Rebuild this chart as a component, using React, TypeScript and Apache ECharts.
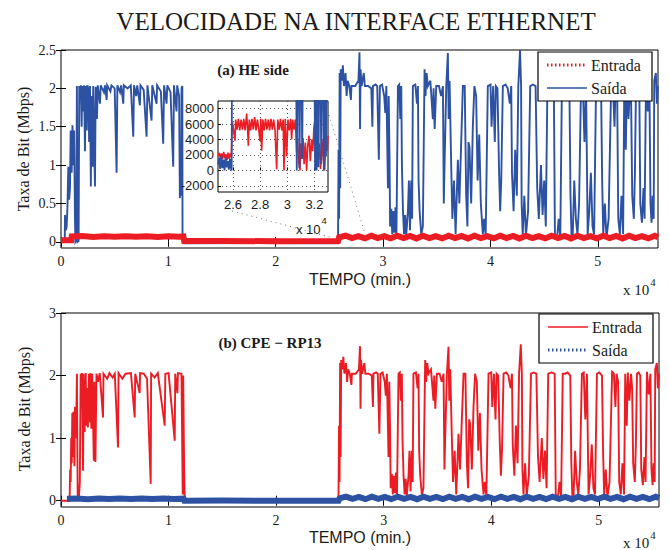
import React, { useEffect, useRef } from "react";
import * as echarts from "echarts";

// ---------- tick values ----------
const mainXTicks = [0, 10000, 20000, 30000, 40000, 50000];
const topYTicks = [0, 0.5, 1, 1.5, 2, 2.5];
const botYTicks = [0, 1, 2, 3];
const insetXTicks = [26000, 28000, 30000, 32000];
const insetYTicks = [-2000, 0, 2000, 4000, 6000, 8000];

// ---------- (a) HE side : Saída, first part (t in min, Mbps) ----------
const heSaidaInicio: number[][] = [
  [0, 0.02], [350, 0.03], [372, 0.35], [450, 0.15], [527, 0.2], [600, 0.45], [682, 0.98], [760, 0.55],
  [837, 0.7], [900, 1.45], [992, 0.9], [1070, 1.52], [1147, 1.0], [1220, 1.45], [1302, 0.3], [1340, 0.0],
  [1420, 0.02], [1480, 2.03], [1540, 0.0], [1640, 0.01], [1700, 2.03], [1767, 1.9], [1850, 2.04], [1922, 1.5],
  [1980, 2.03], [2080, 1.7], [2150, 2.04], [2233, 1.18], [2300, 2.03], [2400, 1.45], [2450, 2.04], [2543, 2.0],
  [2620, 1.3], [2700, 2.03], [2780, 0.72], [2853, 1.9], [2950, 0.98], [3000, 2.03], [3163, 0.72], [3230, 2.02],
  [3350, 1.6], [3420, 2.04], [3628, 1.8], [3700, 2.04], [4000, 1.95], [4100, 2.04], [4248, 1.85], [4300, 2.04],
  [4600, 1.96], [4700, 2.04], [5000, 2.0], [5178, 0.9], [5250, 2.04], [5500, 1.95], [5600, 2.04], [5798, 1.8],
  [5850, 2.04], [6200, 2.0], [6500, 2.04], [6729, 1.37], [6800, 2.04], [7000, 1.9], [7100, 2.04], [7349, 1.78],
  [7400, 2.04], [7700, 1.98], [7969, 1.37], [8050, 2.04], [8434, 1.58], [8500, 2.04], [8899, 1.8], [8950, 2.04],
  [9300, 1.96], [9519, 1.28], [9600, 2.04], [9829, 1.8], [9900, 2.04], [10200, 1.95], [10449, 0.98], [10520, 2.04],
  [10760, 1.7], [10820, 2.04], [11000, 1.9], [11070, 0.57], [11140, 1.2], [11200, 0.6], [11225, 2.0], [11300, 2.03],
  [11318, 0.0], [11442, -0.02], [18000, -0.015], [25800, -0.02],
];

// ---------- (b) CPE - RP13 : Entrada, first part ----------
const cpeEntradaInicio: number[][] = [
  [0, 0.0], [800, 0.0], [850, 0.5], [900, 0.3], [950, 1.0], [1000, 0.6], [1050, 1.4], [1100, 0.7],
  [1150, 1.42], [1250, 0.55], [1300, 1.5], [1400, 1.0], [1480, 2.03], [1550, 0.1], [1650, 0.0], [1750, 0.3],
  [1830, 2.03], [1900, 1.5], [1950, 2.04], [2050, 0.48], [2100, 2.03], [2200, 1.1], [2300, 2.04], [2350, 1.2],
  [2400, 1.8], [2500, 1.17], [2600, 2.03], [2700, 1.25], [2750, 2.04], [2822, 1.15], [2900, 2.03], [3050, 0.64],
  [3100, 1.9], [3200, 0.62], [3300, 2.03], [3442, 1.9], [3600, 2.04], [3907, 1.33], [3950, 2.03], [4300, 1.95],
  [4500, 2.04], [4800, 1.97], [5000, 2.03], [5302, 0.85], [5350, 2.04], [5700, 1.95], [6000, 2.03], [6500, 2.04],
  [6853, 1.33], [6900, 2.03], [7318, 1.72], [7350, 2.04], [7700, 2.03], [8000, 1.95], [8342, 0.27], [8380, 2.03],
  [8700, 1.97], [9000, 2.04], [9644, 1.2], [9700, 2.03], [10000, 2.04], [10574, 0.96], [10620, 2.03], [10822, 1.72],
  [10870, 2.04], [11200, 2.03], [11318, 0.1], [11360, 2.0], [11450, 0.5], [11504, 0.0], [18000, 0.0], [25800, 0.0],
];

// ---------- 2 Mbps traffic after 25800 min (same flow seen at both ends) ----------
const trafegoFinal: number[][] = [
  [25850, 1.2], [25900, 0.3], [25950, 2.2], [26000, 0.7], [26050, 2.25], [26150, 2.1], [26250, 2.3], [26350, 2.03],
  [26500, 2.2], [26600, 1.9], [26700, 2.1], [26850, 2.03], [27000, 1.85], [27050, 2.03], [27400, 2.03], [27700, 2.1],
  [27800, 2.47], [27850, 1.47], [27900, 2.25], [28000, 2.03], [28200, 2.2], [28300, 2.03], [28600, 2.03], [28900, 2.0],
  [29000, 1.5], [29050, 2.03], [29300, 2.05], [29450, 2.03], [29600, 1.07], [29700, 2.03], [29900, 2.05], [30100, 1.9],
  [30200, 1.68], [30300, 2.03], [30450, 0.7], [30520, 1.9], [30600, 1.07], [30650, 0.2], [30760, 0.43], [30850, 0.1],
  [30950, 0.4], [31050, 0.12], [31150, 0.45], [31240, 0.1], [31380, 2.03], [31500, 2.05], [31600, 1.6], [31690, 2.03],
  [31750, 1.0], [31850, 0.4], [31950, 0.1], [32050, 0.35], [32150, 0.08], [32310, 0.4], [32400, 0.8], [32500, 0.15],
  [32620, 0.8], [32700, 0.3], [32770, 2.03], [33000, 2.05], [33150, 1.8], [33240, 2.03], [33300, 0.8], [33400, 0.4],
  [33550, 0.1], [33700, 0.2], [33860, 2.25], [33950, 1.9], [34050, 2.2], [34170, 2.03], [34400, 2.1], [34630, 1.6],
  [34700, 2.0], [34800, 1.47], [34950, 2.03], [35200, 2.03], [35400, 1.9], [35570, 2.03], [35650, 0.5], [35720, 1.0],
  [35880, 2.03], [36030, 2.46], [36100, 1.6], [36190, 2.1], [36340, 1.0], [36450, 0.3], [36600, 0.8], [36750, 0.1],
  [36960, 1.07], [37100, 0.5], [37250, 1.2], [37426, 2.03], [37600, 2.03], [37736, 0.6], [37850, 0.2], [37950, 1.3],
  [38045, 1.23], [38200, 0.5], [38355, 1.5], [38500, 2.03], [38665, 1.9], [38800, 0.8], [38950, 1.4], [39100, 0.5],
  [39285, 0.1], [39400, 0.3], [39550, 0.08], [39750, 2.03], [40000, 2.05], [40100, 1.5], [40250, 2.03], [40400, 1.3],
  [40500, 2.03], [40650, 2.0], [40800, 0.9], [40900, 0.4], [41000, 0.8], [41150, 2.03], [41400, 2.05], [41600, 2.0],
  [41800, 1.8], [41930, 2.03], [42000, 0.9], [42150, 0.4], [42300, 1.2], [42450, 0.6], [42590, 2.03], [42750, 2.5],
  [42850, 2.03], [42900, 0.5], [43000, 0.1], [43150, 0.6], [43300, 0.08], [43500, 0.4], [43700, 2.03], [43950, 2.05],
  [44200, 2.03], [44350, 0.7], [44500, 0.3], [44700, 1.0], [44850, 0.35], [45000, 0.8], [45150, 0.2], [45300, 2.03],
  [45600, 2.05], [45900, 2.03], [46000, 0.1], [46200, 0.05], [46350, 0.3], [46500, 0.05], [46650, 2.03], [46880, 2.03],
  [47100, 2.05], [47350, 2.0], [47450, 0.6], [47550, 0.05], [47660, 0.1], [47800, 0.8], [47950, 0.3], [48100, 0.1],
  [48250, 0.5], [48430, 2.03], [48600, 2.05], [48750, 1.3], [48900, 2.03], [49050, 0.1], [49200, 0.4], [49350, 0.9],
  [49500, 0.2], [49650, 0.1], [49830, 2.03], [50050, 2.05], [50300, 2.0], [50400, 0.8], [50500, 0.1], [50650, 0.5],
  [50800, 0.05], [51000, 0.3], [51240, 2.06], [51400, 2.03], [51550, 1.5], [51650, 2.03], [51800, 1.9], [51900, 0.3],
  [52050, 0.1], [52200, 0.6], [52350, 0.1], [52460, 2.03], [52600, 1.2], [52700, 2.05], [52850, 1.6], [53000, 2.03],
  [53100, 1.8], [53200, 0.6], [53350, 0.3], [53450, 0.9], [53550, 2.03], [53700, 2.05], [53860, 2.0], [53950, 0.5],
  [54100, 0.25], [54250, 0.7], [54350, 0.3], [54480, 2.06], [54650, 1.7], [54800, 2.03], [54900, 0.5], [55000, 0.25],
  [55100, 0.6], [55200, 0.3], [55250, 2.1], [55400, 2.2], [55500, 1.8], [55600, 2.03],
];

// ---------- low-rate directions ----------
const heEntrada: number[][] = [
  [0, 0.02], [950, 0.02], [1000, 0.07], [2000, 0.075], [3000, 0.065], [4000, 0.072], [5000, 0.066], [6000, 0.074],
  [7000, 0.066], [8000, 0.072], [9000, 0.065], [10000, 0.073], [11000, 0.066], [11400, 0.07], [11480, 0.01],
  [15000, 0.012], [20000, 0.008], [25800, 0.01], [25900, 0.06], [26500, 0.08], [27100, 0.05], [27700, 0.075],
  [28300, 0.045], [28900, 0.08], [29500, 0.05], [30100, 0.075], [30700, 0.045], [31300, 0.08], [31900, 0.05],
  [32500, 0.078], [33100, 0.045], [33700, 0.08], [34300, 0.05], [34900, 0.075], [35500, 0.045], [36100, 0.08],
  [36700, 0.05], [37300, 0.078], [37900, 0.045], [38500, 0.08], [39100, 0.05], [39700, 0.075], [40300, 0.045],
  [40900, 0.08], [41500, 0.05], [42100, 0.078], [42700, 0.045], [43300, 0.08], [43900, 0.05], [44500, 0.075],
  [45100, 0.045], [45700, 0.08], [46300, 0.05], [46900, 0.078], [47500, 0.045], [48100, 0.08], [48700, 0.05],
  [49300, 0.075], [49900, 0.045], [50500, 0.08], [51100, 0.05], [51700, 0.078], [52300, 0.045], [52900, 0.08],
  [53500, 0.05], [54100, 0.075], [54700, 0.045], [55300, 0.08], [55600, 0.06],
];

const cpeSaida: number[][] = [
  [550, 0.03], [1500, 0.035], [2500, 0.025], [3500, 0.035], [4500, 0.028], [5500, 0.036], [6500, 0.027],
  [7500, 0.035], [8500, 0.028], [9500, 0.036], [10500, 0.027], [11400, 0.033], [11480, 0.0], [15000, 0.003],
  [20000, -0.002], [25800, 0.0], [25900, 0.04], [26500, 0.065], [27100, 0.03], [27700, 0.06], [28300, 0.025],
  [28900, 0.065], [29500, 0.03], [30100, 0.06], [30700, 0.025], [31300, 0.065], [31900, 0.03], [32500, 0.062],
  [33100, 0.025], [33700, 0.065], [34300, 0.03], [34900, 0.06], [35500, 0.025], [36100, 0.065], [36700, 0.03],
  [37300, 0.062], [37900, 0.025], [38500, 0.065], [39100, 0.03], [39700, 0.06], [40300, 0.025], [40900, 0.065],
  [41500, 0.03], [42100, 0.062], [42700, 0.025], [43300, 0.065], [43900, 0.03], [44500, 0.06], [45100, 0.025],
  [45700, 0.065], [46300, 0.03], [46900, 0.062], [47500, 0.025], [48100, 0.065], [48700, 0.03], [49300, 0.06],
  [49900, 0.025], [50500, 0.065], [51100, 0.03], [51700, 0.062], [52300, 0.025], [52900, 0.065], [53500, 0.03],
  [54100, 0.06], [54700, 0.025], [55300, 0.065], [55600, 0.045],
];

// ---------- inset (zoom on 2.5e4 .. 3.3e4) ----------
const insetEntrada: number[][] = [
  [24900, 1800], [25000, 2300], [25080, 1400], [25160, 2200], [25240, 1500], [25320, 2400], [25400, 1600],
  [25480, 2100], [25560, 1300], [25640, 2300], [25720, 1500], [25800, 2200], [25880, 1700], [25950, 6300],
  [26050, 5200], [26152, 3850], [26200, 6600], [26300, 5300], [26400, 6700], [26500, 5200], [26600, 6600],
  [26700, 5300], [26800, 6700], [26900, 5200], [27011, 7370], [27080, 5300], [27133, 3200], [27200, 6600],
  [27300, 5200], [27400, 6700], [27500, 5300], [27600, 6900], [27700, 5200], [27800, 6600], [27900, 5300],
  [27992, 3800], [28050, 6700], [28115, 2540], [28200, 6600], [28300, 5200], [28400, 6700], [28500, 5300],
  [28600, 6600], [28700, 5200], [28800, 6700], [28900, 5300], [29000, 6600], [29100, 5200], [29219, 150],
  [29300, 6600], [29400, 5300], [29500, 6700], [29600, 5200], [29700, 6600], [29759, 0], [29850, 6700],
  [29955, 1800], [30050, 6600], [30150, 5200], [30250, 6700], [30323, 4000], [30400, 6600], [30500, 5300],
  [30600, 6600], [30691, 2500], [30750, 4200], [30850, 1000], [30937, 0], [31000, 3500], [31080, 1500],
  [31160, 4200], [31240, 800], [31330, 3600], [31428, 0], [31500, 3000], [31600, 4500], [31700, 1200],
  [31796, 4000], [31880, 2500], [31960, 5500], [32041, 6600], [32100, 5500], [32164, 4200], [32250, 800],
  [32350, 3500], [32450, 200], [32550, 4000], [32650, 1500], [32750, 0], [32850, 3800], [32950, 2500], [33000, 4500],
];

const insetSaida: number[][] = [
  [24900, 800], [24980, 1600], [25060, 200], [25140, 1900], [25220, 300], [25300, 1400], [25380, 0],
  [25460, 1700], [25540, 400], [25620, 1200], [25700, 100], [25780, 1500], [25860, 200], [25906, 0],
  [25930, 14000], [30650, 14000], [30700, 0], [30760, 14000], [30850, 14000], [30900, 300], [30960, 14000],
  [31050, 14000], [31100, 1500], [31150, 14000], [32000, 14000], [32050, 0], [32100, 14000], [32160, 0],
  [32220, 14000], [32300, 400], [32360, 14000], [32450, 14000], [32500, 800], [32560, 14000], [32650, 14000],
  [32700, 0], [32760, 14000], [32850, 1800], [32900, 14000], [33000, 14000],
];

const BLUE = "#2d52a3";
const RED = "#ec1c24";
const FS = "'Liberation Serif','Times New Roman',serif";
const FSANS = "'Liberation Sans',Arial,Helvetica,sans-serif";
const TXT = "#1a1a1a";

function xAx(grid: number, position: string, labels: boolean, extra: any = {}) {
  return {
    type: "value", gridIndex: grid, position, min: 0, max: 55600,
    axisLine: { show: false },
    axisTick: { show: true, inside: true, length: 5, customValues: mainXTicks, lineStyle: { color: "#000" } },
    axisLabel: {
      show: labels, customValues: mainXTicks, formatter: (v: number) => String(v / 10000),
      fontFamily: FS, fontSize: 14, color: TXT, margin: 6,
    },
    splitLine: { show: false },
    ...extra,
  };
}

function yAx(grid: number, position: string, labels: boolean, min: number, max: number, ticks: number[]) {
  return {
    type: "value", gridIndex: grid, position, min, max,
    axisLine: { show: false },
    axisTick: { show: true, inside: true, length: 5, customValues: ticks, lineStyle: { color: "#000" } },
    axisLabel: { show: labels, customValues: ticks, formatter: (v: number) => String(v), fontFamily: FS, fontSize: 14, color: TXT, margin: 5 },
    splitLine: { show: false },
  };
}

function line(name: string, data: number[][], color: string, width: number, xi: number, yi: number, z: number) {
  return {
    type: "line", name, data, xAxisIndex: xi, yAxisIndex: yi, z,
    showSymbol: false, symbol: "none", silent: true, clip: true,
    lineStyle: { color, width, join: "miter" },
  };
}

function legendBox(x: number, y: number, entradaDash: boolean) {
  const row1 = y + 13;
  const row2 = y + 36;
  return [
    { type: "rect", z: 100, shape: { x, y, width: 114, height: 49 }, style: { fill: "#fff", stroke: "#000", lineWidth: 1.2 } },
    { type: "line", z: 101, shape: { x1: x + 9, y1: row1, x2: x + 49, y2: row1 },
      style: { stroke: RED, lineWidth: entradaDash ? 3 : 1.6, lineDash: entradaDash ? [1.5, 2.5] : null } },
    { type: "text", z: 101, x: x + 53, y: row1, style: { text: "Entrada", font: `16px ${FS}`, fill: TXT, textVerticalAlign: "middle" } },
    { type: "line", z: 101, shape: { x1: x + 9, y1: row2, x2: x + 49, y2: row2 },
      style: { stroke: BLUE, lineWidth: entradaDash ? 1.6 : 3, lineDash: entradaDash ? null : [1.5, 2.5] } },
    { type: "text", z: 101, x: x + 53, y: row2, style: { text: "Saída", font: `16px ${FS}`, fill: TXT, textVerticalAlign: "middle" } },
  ];
}

function x10(x: number, y: number, size: number, family: string) {
  return {
    type: "text", z: 100, x, y,
    style: {
      text: "{a|x 10}{b|4}",
      textVerticalAlign: "middle",
      rich: {
        a: { fontFamily: family, fontSize: size, fill: TXT, verticalAlign: "bottom" },
        b: { fontFamily: family, fontSize: size * 0.72, fill: TXT, verticalAlign: "top", padding: [0, 0, 10, 1] },
      },
    },
  };
}

export default function App() {
  const ref = useRef<HTMLDivElement>(null);
  useEffect(() => {
    const chart = echarts.init(ref.current!, null, { renderer: "svg" });
    const option: any = {
      animation: false,
      backgroundColor: "#fff",
      grid: [
        { left: 61, top: 50, width: 597, height: 198, show: true, backgroundColor: "#fff", borderColor: "#000", borderWidth: 1 },
        { left: 218, top: 101, width: 110, height: 91, show: true, backgroundColor: "#fff", borderColor: "#000", borderWidth: 1, z: 10 },
        { left: 61, top: 313, width: 598, height: 194, show: true, backgroundColor: "#fff", borderColor: "#000", borderWidth: 1 },
      ],
      xAxis: [
        xAx(0, "bottom", true),
        xAx(0, "top", false),
        {
          type: "value", gridIndex: 1, position: "bottom", min: 24900, max: 33000, z: 11,
          axisLine: { show: false },
          axisTick: { show: true, inside: true, length: 3, customValues: insetXTicks, lineStyle: { color: "#000" } },
          axisLabel: { customValues: insetXTicks, formatter: (v: number) => String(v / 10000), fontFamily: FSANS, fontSize: 13, color: TXT, margin: 6 },
          splitLine: { show: true, lineStyle: { type: [1, 3], color: "#555", width: 1 } },
        },
        xAx(2, "bottom", true),
        xAx(2, "top", false),
      ],
      yAxis: [
        yAx(0, "left", true, -0.08, 2.5, topYTicks),
        yAx(0, "right", false, -0.08, 2.5, topYTicks),
        {
          type: "value", gridIndex: 1, position: "left", min: -2800, max: 9000, z: 11,
          axisLine: { show: false },
          axisTick: { show: true, inside: true, length: 3, customValues: insetYTicks, lineStyle: { color: "#000" } },
          axisLabel: { customValues: insetYTicks, formatter: (v: number) => String(v), fontFamily: FSANS, fontSize: 13, color: TXT, margin: 4 },
          splitLine: { show: true, lineStyle: { type: [1, 3], color: "#555", width: 1 } },
        },
        yAx(2, "left", true, -0.1, 3, botYTicks),
        yAx(2, "right", false, -0.1, 3, botYTicks),
      ],
      series: [
        line("Saída", heSaidaInicio.concat(trafegoFinal), BLUE, 1.9, 0, 0, 2),
        line("Entrada", heEntrada, RED, 6, 0, 0, 3),
        line("Entrada (zoom)", insetEntrada, RED, 1.6, 2, 2, 12),
        line("Saída (zoom)", insetSaida, BLUE, 1.8, 2, 2, 13),
        line("Entrada", cpeEntradaInicio.concat(trafegoFinal), RED, 1.9, 3, 3, 2),
        line("Saída", cpeSaida, BLUE, 6, 3, 3, 3),
      ],
      graphic: [
        { type: "text", z: 100, x: 356, y: 21, style: { text: "VELOCIDADE NA INTERFACE ETHERNET", font: `25px ${FS}`, fill: TXT, textAlign: "center", textVerticalAlign: "middle" } },
        { type: "text", z: 100, x: 253, y: 70, style: { text: "(a) HE side", font: `bold 15px ${FS}`, fill: TXT, textAlign: "center", textVerticalAlign: "middle" } },
        { type: "text", z: 100, x: 270, y: 343, style: { text: "(b) CPE − RP13", font: `bold 15px ${FS}`, fill: TXT, textAlign: "center", textVerticalAlign: "middle" } },
        { type: "text", z: 100, x: 360, y: 279, style: { text: "TEMPO (min.)", font: `16px ${FSANS}`, fill: TXT, textAlign: "center", textVerticalAlign: "middle" } },
        { type: "text", z: 100, x: 360, y: 537, style: { text: "TEMPO (min.)", font: `16px ${FSANS}`, fill: TXT, textAlign: "center", textVerticalAlign: "middle" } },
        { type: "text", z: 100, x: 23, y: 149, rotation: Math.PI / 2, style: { text: "Taxa de Bit (Mbps)", font: `16px ${FS}`, fill: TXT, textAlign: "center", textVerticalAlign: "middle" } },
        { type: "text", z: 100, x: 24, y: 409, rotation: Math.PI / 2, style: { text: "Taxa de Bit (Mbps)", font: `16px ${FS}`, fill: TXT, textAlign: "center", textVerticalAlign: "middle" } },
        x10(623, 287, 15, FS),
        x10(623, 540, 15, FS),
        x10(296, 226, 13, FSANS),
        { type: "line", z: 5, shape: { x1: 232, y1: 211, x2: 330, y2: 237 }, style: { stroke: "#777", lineWidth: 1, lineDash: [1, 4] } },
        { type: "line", z: 5, shape: { x1: 329, y1: 115, x2: 366, y2: 237 }, style: { stroke: "#777", lineWidth: 1, lineDash: [1, 4] } },
        ...legendBox(538, 52, true),
        ...legendBox(539, 314, false),
      ],
    };
    chart.setOption(option);
    return () => chart.dispose();
  }, []);
  return <div ref={ref} style={{ position: "fixed", left: 0, top: 0, width: 669, height: 550 }} />;
}
